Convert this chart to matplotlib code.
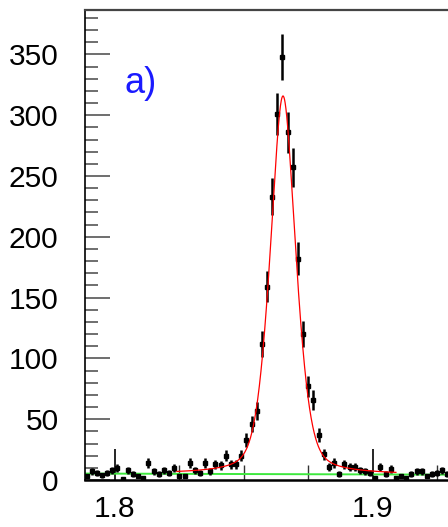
import numpy as np
import matplotlib
matplotlib.use("Agg")
import matplotlib.pyplot as plt

plt.rcParams['font.family'] = ['Liberation Sans', 'DejaVu Sans']

# Invariant-mass histogram (bin centres, GeV) and counts per bin
mass_bins = [
    1.789, 1.791, 1.793, 1.795, 1.797, 1.799, 1.801, 1.803, 1.805, 1.807,
    1.809, 1.811, 1.813, 1.815, 1.817, 1.819, 1.821, 1.823, 1.825, 1.827,
    1.829, 1.831, 1.833, 1.835, 1.837, 1.839, 1.841, 1.843, 1.845, 1.847,
    1.849, 1.851, 1.853, 1.855, 1.857, 1.859, 1.861, 1.863, 1.865, 1.867,
    1.869, 1.871, 1.873, 1.875, 1.877, 1.879, 1.881, 1.883, 1.885, 1.887,
    1.889, 1.891, 1.893, 1.895, 1.897, 1.899, 1.901, 1.903, 1.905, 1.907,
    1.909, 1.911, 1.913, 1.915, 1.917, 1.919, 1.921, 1.923, 1.925, 1.927,
    1.929,
]
counts = [
    3, 7, 6, 4, 6, 8, 10, 1, 8, 5,
    3, 2, 14, 7, 5, 8, 6, 10, 3, 3,
    14, 8, 6, 14, 7, 13, 12, 20, 13, 13,
    20, 33, 46, 57, 112, 159, 233, 301, 348, 286,
    257, 182, 120, 77, 66, 37, 21, 11, 14, 5,
    13, 11, 11, 8, 7, 6, 2, 11, 5, 9,
    2, 3, 2, 5, 7, 7, 3, 5, 6, 8,
    5,
]

# Fit parameters: Gaussian core + Breit-Wigner tails on a linear background
peak_mean = 1.8652
gauss_amp = 175.0
gauss_sigma = 0.0054
bw_amp = 136.0
bw_gamma = 0.005
bkg_left = 5.3
bkg_right = 4.4
fit_range = (1.824, 1.909)

x_limits = (1.7884, 1.9292)
y_limits = (0, 386.5)
x_major = [1.8, 1.9]
x_minor = [1.825, 1.85, 1.875, 1.925]
y_major = [0, 50, 100, 150, 200, 250, 300, 350]
label_text = "a)"


def background(m):
    t = (m - x_limits[0]) / (x_limits[1] - x_limits[0])
    return bkg_left + (bkg_right - bkg_left) * t


def fit_model(m):
    d = m - peak_mean
    g = gauss_amp * np.exp(-0.5 * (d / gauss_sigma) ** 2)
    bw = bw_amp / (1.0 + (d / bw_gamma) ** 2)
    return g + bw + background(m)


fig = plt.figure(figsize=(4.48, 5.27), dpi=100)
ax = fig.add_axes([85 / 448, 47 / 527, 1 - 85 / 448, (480 - 10) / 527])

x = np.array(mass_bins)
y = np.array(counts, dtype=float)
ax.errorbar(x, y, yerr=np.sqrt(y), fmt='s', color='black', ms=2.8,
            elinewidth=1.8, capsize=0, zorder=3)

mb = np.linspace(x_limits[0], x_limits[1], 200)
ax.plot(mb, background(mb), color='#3ee83e', lw=1.4, zorder=2)

mf = np.linspace(fit_range[0], fit_range[1], 800)
ax.plot(mf, fit_model(mf), color='red', lw=0.9, zorder=4)

ax.set_xlim(*x_limits)
ax.set_ylim(*y_limits)
ax.set_xticks(x_major)
ax.set_xticklabels(["1.8", "1.9"])
ax.set_xticks(x_minor, minor=True)
ax.set_yticks(y_major)
ax.set_yticks(np.arange(0, 381, 10), minor=True)

ax.tick_params(axis='both', which='major', direction='in', labelsize=21.5,
               color='#555555', width=1.2)
ax.tick_params(axis='y', which='major', length=18, pad=19)
ax.tick_params(axis='y', which='minor', direction='in', length=9,
               color='#555555', width=1.2)
ax.tick_params(axis='x', which='major', length=22, pad=11, color='black')
ax.tick_params(axis='x', which='minor', direction='in', length=11,
               color='#333333', width=1.0)

ax.spines['right'].set_visible(False)
ax.spines['top'].set_color('#444444')
ax.spines['top'].set_linewidth(1.6)
ax.spines['left'].set_linewidth(1.2)
ax.spines['bottom'].set_linewidth(1.8)

ax.text(124 / 448, 1 - 93 / 527, label_text, transform=fig.transFigure,
        color='#1a1aff', fontsize=26, ha='left', va='baseline')

fig.savefig("out.png", dpi=100)
